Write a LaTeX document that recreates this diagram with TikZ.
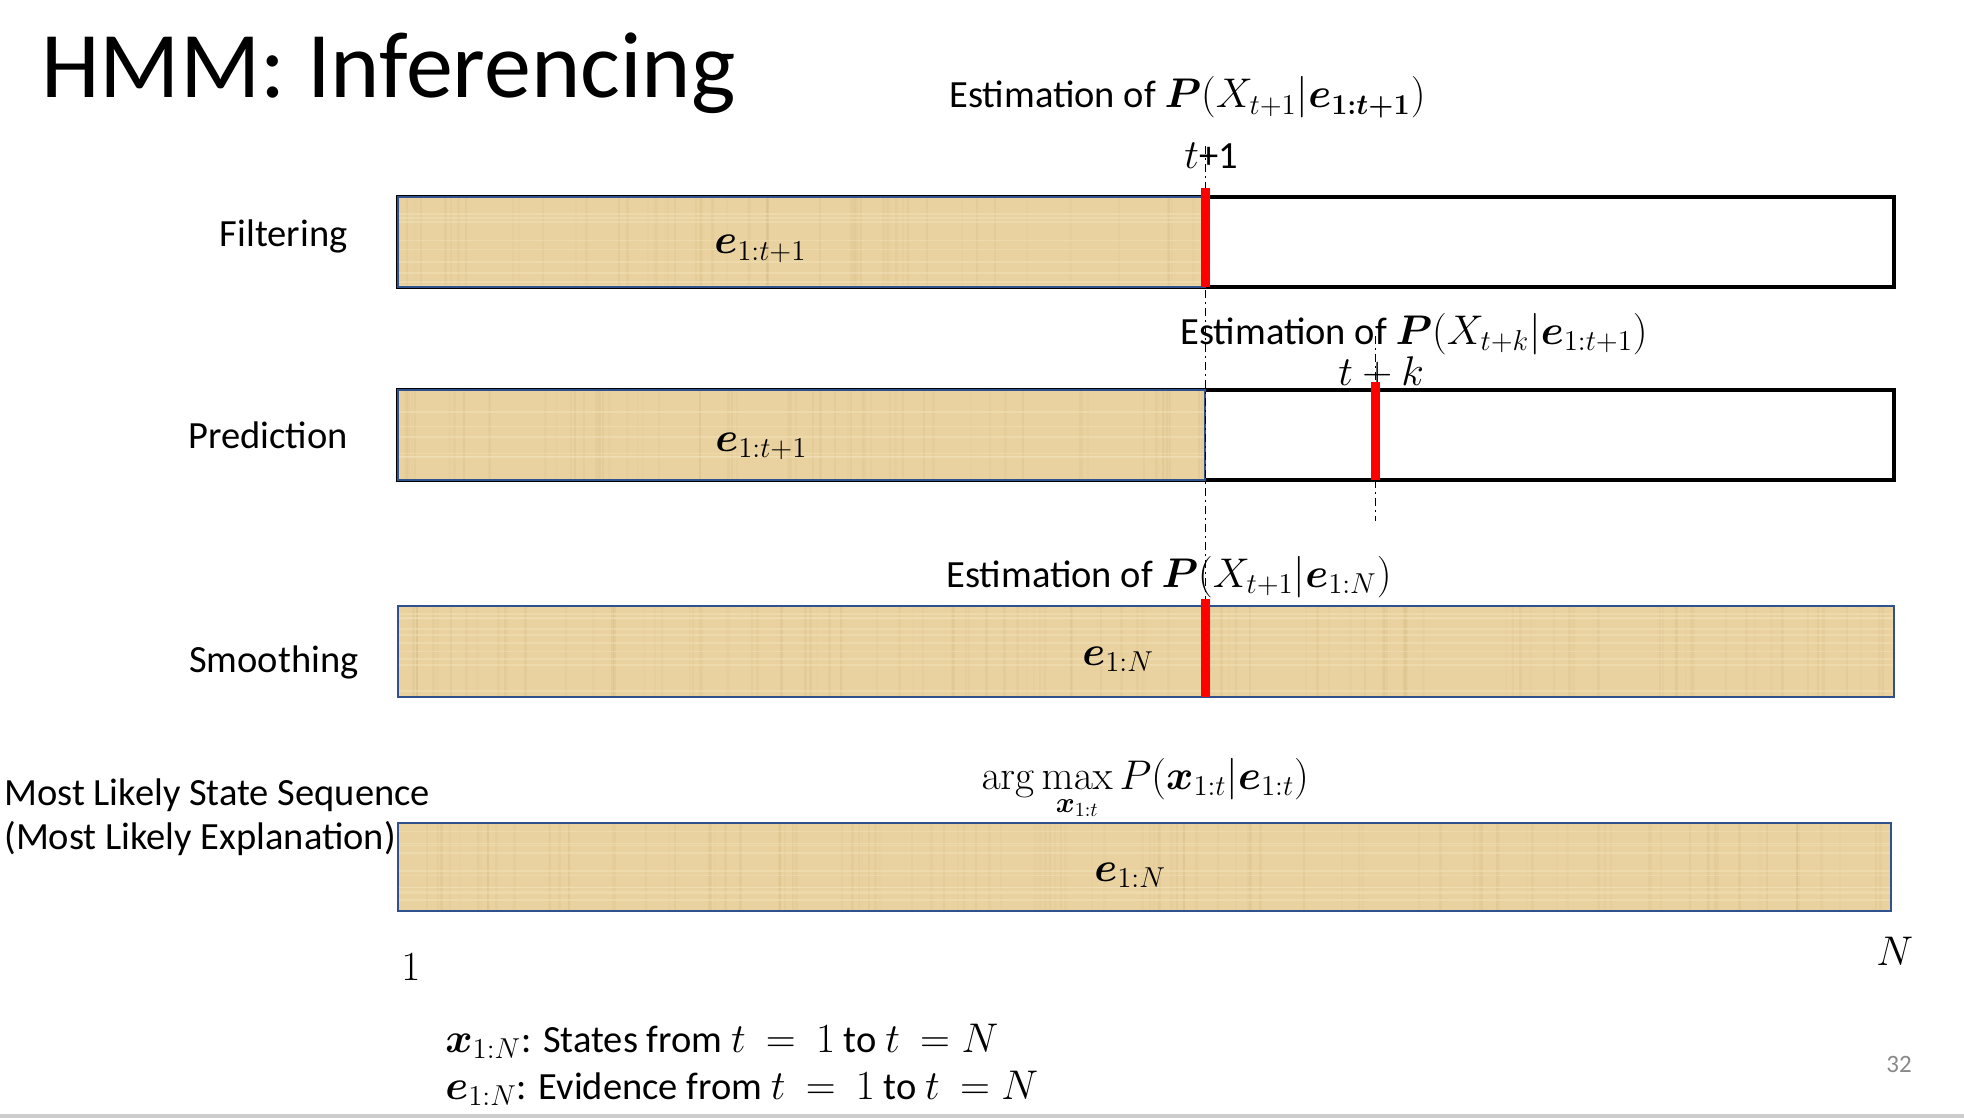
\documentclass[tikz,border=0pt]{standalone}
\usepackage{amsmath,amssymb,bm}
\usepackage[no-math]{fontspec}
\setmainfont{Carlito}
\usetikzlibrary{backgrounds}
\definecolor{papyrus}{RGB}{233,210,160}
\definecolor{papdark}{RGB}{205,176,118}
\definecolor{paplight}{RGB}{245,230,192}
\definecolor{barblue}{RGB}{47,82,143}
\definecolor{markred}{RGB}{255,0,0}
\definecolor{pagenum}{RGB}{137,137,137}

% textured evidence bar
\newcommand{\papbar}[1]{%
  \begin{scope}
    \clip #1;
    \fill[papyrus] #1;
    \foreach \k in {1,...,110}{
      \pgfmathsetmacro\xx{398+rnd*1500}
      \pgfmathsetmacro\op{0.05+0.15*rnd}
      \draw[papdark, opacity=\op, line width=1.2pt] (\xx,0) -- (\xx,1118);
    }
    \foreach \k in {1,...,70}{
      \pgfmathsetmacro\yy{180+rnd*740}
      \draw[paplight, opacity=0.4, line width=0.8pt] (398,\yy) -- (1900,\yy);
    }
  \end{scope}
  \draw[barblue, line width=1pt] #1;
}

\tikzset{
  lbl/.style={font=\fontsize{19.25}{22}\selectfont, inner sep=0pt},
  emptybar/.style={draw=black, fill=white, line width=2.25pt},
  timemark/.style={draw=markred, line width=4.5pt},
  guide/.style={line width=0.5pt, dash pattern=on 4pt off 2pt on 1pt off 2pt}
}

\begin{document}
\begin{tikzpicture}[x=0.5pt,y=-0.5pt]
  \pgfmathsetseed{11}
  \useasboundingbox (0,0) rectangle (1964,1118);
  \def\filtall{(398,197) rectangle (1894,287)}
  \def\filtev{(398,197) rectangle (1205,287)}
  \def\predall{(398,390) rectangle (1894,480)}
  \def\predev{(398,390) rectangle (1205,480)}
  \def\smoothev{(398,606) rectangle (1894,697)}
  \def\mlsev{(398,823) rectangle (1891,911)}

  % title
  \node[inner sep=0pt, anchor=base west, font=\fontsize{47}{50}\selectfont] (title) at (41,98) {HMM: Inferencing};

  % bars
  \draw[emptybar] \filtall;
  \papbar{\filtev}
  \draw[emptybar] \predall;
  \papbar{\predev}
  \papbar{\smoothev}
  \papbar{\mlsev}

  % row names
  \node[lbl, anchor=base east] (filt) at (348,247) {Filtering};
  \node[lbl, anchor=base east] (pred) at (348,448) {Prediction};
  \node[lbl, anchor=base east] (smooth) at (359,672) {Smoothing};
  \node[lbl, anchor=base west] (mls) at (4,805) {Most Likely State Sequence};
  \node[lbl, anchor=base west] (mle) at (4,849) {(Most Likely Explanation)};

  % evidence labels
  \node[lbl, anchor=base west] (evfilt) at (714,254) {$\bm{e}_{1:t+1}$};
  \node[lbl, anchor=base west] (evpred) at (715,451) {$\bm{e}_{1:t+1}$};
  \node[lbl, anchor=base west] (evsmooth) at (1082,665) {$\bm{e}_{1:N}$};
  \node[lbl, anchor=base west] (evmls) at (1094,881) {$\bm{e}_{1:N}$};

  % queries
  \node[lbl, anchor=base west] (qfilt) at (949,108) {Estimation of $\bm{P}(X_{t+1}|\bm{e}_{\bm{1:t+1}})$};
  \node[lbl, anchor=base west] (tone) at (1184,169) {$t$+1};
  \node[lbl, anchor=base west] (qpred) at (1180,344) {Estimation of $\bm{P}(X_{t+k}|\bm{e}_{1:t+1})$};
  \node[lbl, anchor=base west] (tk) at (1338,385) {$t+k$};
  \node[lbl, anchor=base west] (qsmooth) at (946,587) {Estimation of $\bm{P}(X_{t+1}|\bm{e}_{1:N})$};
  \node[lbl, anchor=base west] (qmls) at (981,789) {$\displaystyle\arg\max_{\bm{x}_{1:t}} P(\bm{x}_{1:t}|\bm{e}_{1:t})$};

  % guides and time marks
  \coordinate (gonetop) at (1205,146);
  \coordinate (gonebot) at (1205,602);
  \coordinate (gktop) at (1375,336);
  \coordinate (gkbot) at (1375,521);
  \draw[guide] (gonetop) -- (gonebot);
  \draw[guide] (gktop) -- (gkbot);
  \coordinate (mfa) at (1205,188);
  \coordinate (mfb) at (1205,287);
  \coordinate (mpa) at (1375,382);
  \coordinate (mpb) at (1375,480);
  \coordinate (msa) at (1205,599);
  \coordinate (msb) at (1205,697);
  \draw[timemark] (mfa) -- (mfb);
  \draw[timemark] (mpa) -- (mpb);
  \draw[timemark] (msa) -- (msb);

  % axis ends
  \node[lbl, anchor=base west] (first) at (401,980) {$1$};
  \node[lbl, anchor=base west] (last) at (1876,965) {$N$};

  % legend
  \node[lbl, anchor=base west] (legx) at (445,1052) {$\bm{x}_{1:N}$: States from $t\ =\ 1$ to $t\ = N$};
  \node[lbl, anchor=base west] (lege) at (445,1099) {$\bm{e}_{1:N}$: Evidence from $t\ =\ 1$ to $t\ = N$};

  % page number
  \node[inner sep=0pt, anchor=base west, text=pagenum, font=\fontsize{12.5}{14}\selectfont] (page) at (1886,1072) {32};
  \draw[gray!40, line width=2pt] (0,1116) -- (1964,1116);
\end{tikzpicture}
\end{document}
